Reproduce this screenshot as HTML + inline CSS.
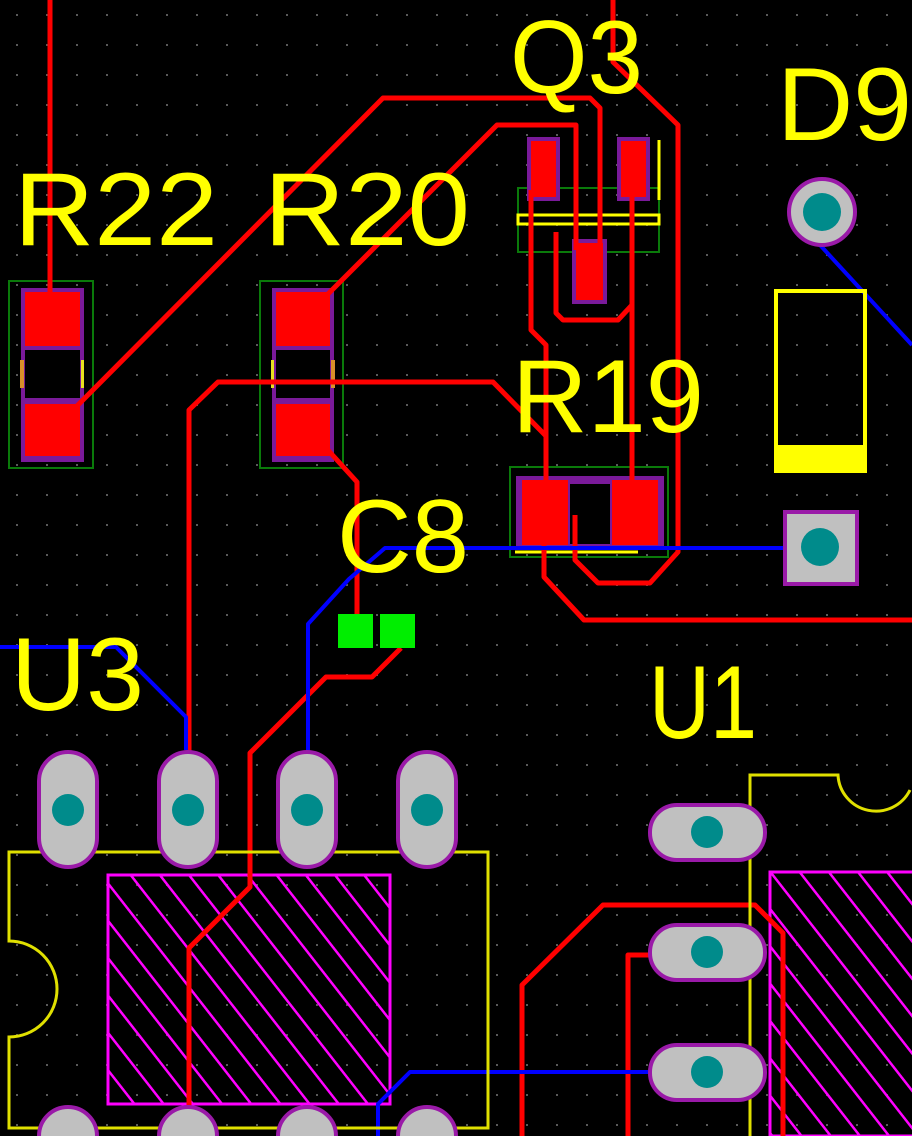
<!DOCTYPE html>
<html><head><meta charset="utf-8"><style>
html,body{margin:0;padding:0;background:#000;width:912px;height:1136px;overflow:hidden;}
svg{display:block;}
text{font-family:"Liberation Sans",sans-serif;fill:#ffff00;font-size:104px;}
</style></head><body>
<svg width="912" height="1136" viewBox="0 0 912 1136" xmlns="http://www.w3.org/2000/svg">
<defs>
<pattern id="grid" x="2" y="0" width="30" height="30" patternUnits="userSpaceOnUse">
<rect x="14" y="14" width="2" height="2" fill="#5a5a5a"/>
</pattern>
<pattern id="hatch" width="23" height="28" patternUnits="userSpaceOnUse" patternTransform="rotate(-38)">
<rect x="0" y="0" width="2.5" height="28" fill="#ff00ff"/>
</pattern>
</defs>
<rect width="912" height="1136" fill="#000"/>
<rect width="912" height="1136" fill="url(#grid)"/>

<rect x="108" y="875" width="282" height="229" fill="url(#hatch)" stroke="#ff00ff" stroke-width="3"/>
<path d="M912,872 H770 V1136 H912" fill="url(#hatch)" stroke="#ff00ff" stroke-width="3"/>

<g fill="none" stroke="#0a7a0a" stroke-width="2">
<rect x="9" y="281" width="84" height="187"/>
<rect x="260" y="281" width="83" height="187"/>
<rect x="518" y="188" width="141" height="64"/>
<rect x="510" y="467" width="158" height="90"/>
</g>

<g fill="#7a1a9a">
<rect x="21" y="288" width="63" height="174"/>
<rect x="272" y="288" width="62" height="174"/>
<rect x="516" y="476" width="148" height="74"/>
<rect x="527" y="137" width="33" height="64"/>
<rect x="617" y="137" width="33" height="64"/>
<rect x="572" y="239" width="35" height="65"/>
</g>
<rect x="25" y="350" width="55" height="48" fill="#000"/>
<rect x="276" y="350" width="54" height="48" fill="#000"/>
<rect x="570" y="484" width="40" height="60" fill="#000"/>
<rect x="20" y="360" width="4" height="28" fill="#d8902a"/>
<rect x="81" y="360" width="3" height="28" fill="#e8e020"/>
<rect x="271" y="360" width="3" height="28" fill="#e8e020"/>
<rect x="331" y="360" width="4" height="28" fill="#d8902a"/>

<g fill="#ff0000">
<rect x="25" y="292" width="55" height="54"/>
<rect x="25" y="404" width="55" height="52"/>
<rect x="276" y="292" width="54" height="54"/>
<rect x="276" y="404" width="54" height="52"/>
<rect x="531" y="141" width="25" height="56"/>
<rect x="621" y="141" width="25" height="56"/>
<rect x="576" y="243" width="27" height="57"/>
<rect x="522" y="480" width="46" height="65"/>
<rect x="612" y="480" width="46" height="65"/>
</g>

<rect x="518" y="215" width="141" height="9" fill="none" stroke="#ffff00" stroke-width="3"/>
<line x1="659" y1="140" x2="659" y2="200" stroke="#ffff00" stroke-width="3"/>
<line x1="515" y1="552" x2="638" y2="552" stroke="#ffff00" stroke-width="3"/>

<g fill="none" stroke="#ff0000" stroke-width="5" stroke-linejoin="round">
<polyline points="50,0 50,295"/>
<polyline points="75,408 383,98 590,98 600,108 600,250"/>
<polyline points="327,295 497,125 576,125 576,250"/>
<polyline points="531,190 531,330 546,345 546,490"/>
<polyline points="632,190 632,490"/>
<polyline points="632,305 618,320 563,320 556,313 556,232"/>
<polyline points="613,0 613,62 678,125 678,552 650,583 598,583 575,560 575,515"/>
<polyline points="544,520 544,577 584,620 912,620"/>
<polyline points="189,760 189,410 218,382 493,382 546,436"/>
<polyline points="327,449 357,482 357,619"/>
<polyline points="401,648 372,677 326,677 250,753 250,887 189,948 189,1136"/>
<polyline points="522,1136 522,985 603,905 755,905 783,933 783,1136"/>
<polyline points="628,1136 628,955 650,955"/>
</g>

<g fill="none" stroke="#0000ff" stroke-width="4" stroke-linejoin="round">
<polyline points="0,647 116,647 186,717 186,750"/>
<polyline points="308,760 308,624 349,579 385,548 790,548"/>
<polyline points="820,245 912,345"/>
<polyline points="378,1136 378,1104 410,1072 648,1072"/>
</g>

<rect x="338" y="614" width="35" height="34" fill="#00ee00"/>
<rect x="380" y="614" width="35" height="34" fill="#00ee00"/>

<path d="M9,852 H488 V1128 H9 V1037 A48,48 0 0 0 9,941 Z" fill="none" stroke="#e0e000" stroke-width="3"/>
<path d="M750,1136 V775 H838 A38,38 0 0 0 910,790" fill="none" stroke="#e0e000" stroke-width="3"/>

<g fill="#c0c0c0" stroke="#9a1aa8" stroke-width="4">
<rect x="39" y="752" width="58" height="115" rx="29"/>
<rect x="159" y="752" width="58" height="115" rx="29"/>
<rect x="278" y="752" width="58" height="115" rx="29"/>
<rect x="398" y="752" width="58" height="115" rx="29"/>
<path d="M39,1136 A29,29 0 0 1 97,1136"/>
<path d="M159,1136 A29,29 0 0 1 217,1136"/>
<path d="M278,1136 A29,29 0 0 1 336,1136"/>
<path d="M398,1136 A29,29 0 0 1 456,1136"/>
<rect x="650" y="805" width="115" height="55" rx="27"/>
<rect x="650" y="925" width="115" height="55" rx="27"/>
<rect x="650" y="1045" width="115" height="55" rx="27"/>
<circle cx="822" cy="212" r="33"/>
<rect x="785" y="512" width="72" height="72"/>
</g>
<g fill="#008b8b">
<circle cx="68" cy="810" r="16"/>
<circle cx="188" cy="810" r="16"/>
<circle cx="307" cy="810" r="16"/>
<circle cx="427" cy="810" r="16"/>
<circle cx="707" cy="832" r="16"/>
<circle cx="707" cy="952" r="16"/>
<circle cx="707" cy="1072" r="16"/>
<circle cx="822" cy="212" r="19"/>
<circle cx="820" cy="547" r="19"/>
</g>

<rect x="776" y="291" width="89" height="180" fill="none" stroke="#ffff00" stroke-width="4"/>
<rect x="776" y="445" width="89" height="26" fill="#ffff00"/>

<text x="14" y="245" textLength="204" lengthAdjust="spacingAndGlyphs">R22</text>
<text x="264" y="245" textLength="206" lengthAdjust="spacingAndGlyphs">R20</text>
<text x="510" y="93" textLength="133" lengthAdjust="spacingAndGlyphs">Q3</text>
<text x="777" y="140" textLength="135" lengthAdjust="spacingAndGlyphs">D9</text>
<text x="512" y="432" textLength="192" lengthAdjust="spacingAndGlyphs">R19</text>
<text x="337" y="572" textLength="132" lengthAdjust="spacingAndGlyphs">C8</text>
<text x="11" y="710" textLength="133" lengthAdjust="spacingAndGlyphs">U3</text>
<text x="649" y="738" textLength="108" lengthAdjust="spacingAndGlyphs">U1</text>
</svg>
</body></html>
